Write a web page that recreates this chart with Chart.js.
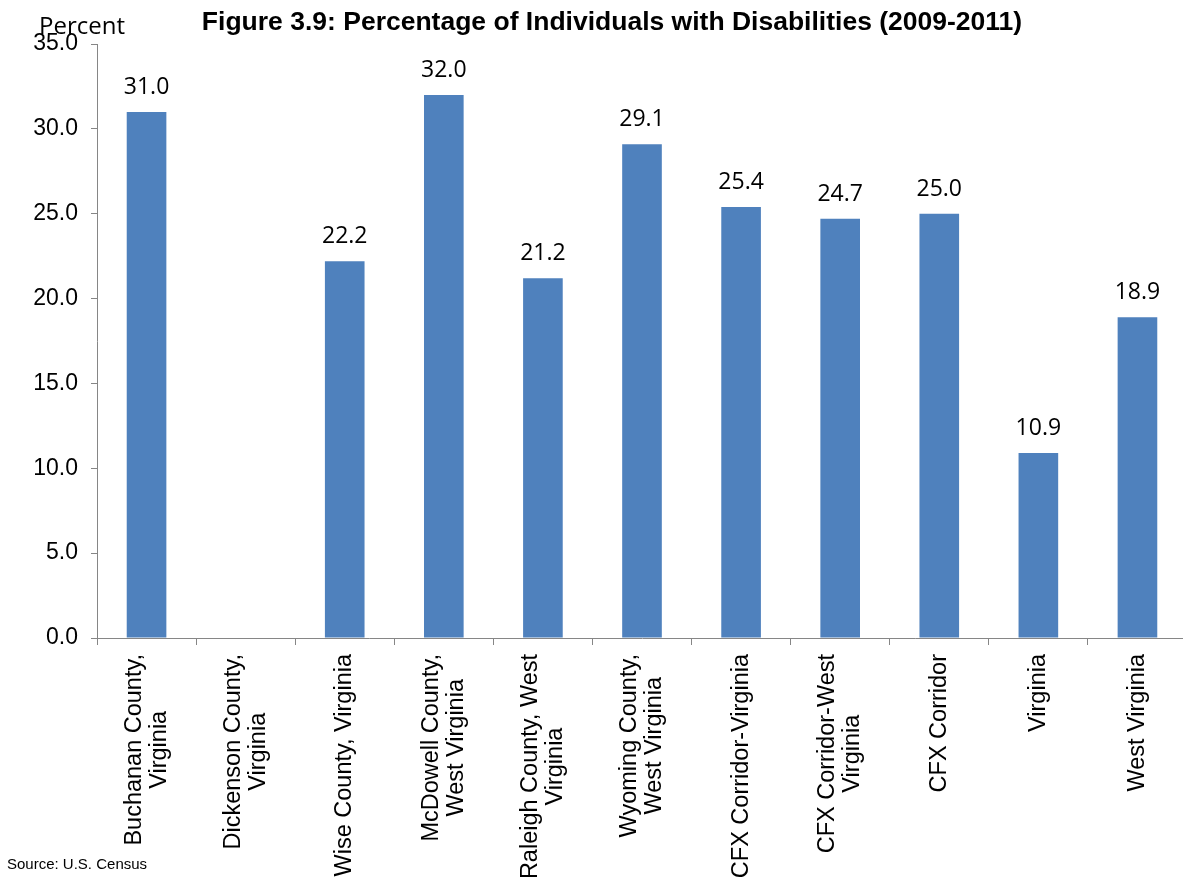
<!DOCTYPE html>
<html>
<head>
<meta charset="utf-8">
<script src="https://cdn.jsdelivr.net/npm/chart.js@4"></script>
<style>
    body { margin: 0; background: #fff; overflow: hidden; }
    #caja { position: relative; width: 1187px; height: 884px; }
</style>
</head>
<body>
<div id="caja"><canvas id="grafica"></canvas></div>
<script>
// DATOS
const categorias = [
    ["Buchanan County,", "Virginia"],
    ["Dickenson County,", "Virginia"],
    ["Wise County, Virginia"],
    ["McDowell County,", "West Virginia"],
    ["Raleigh County, West", "Virginia"],
    ["Wyoming County,", "West Virginia"],
    ["CFX Corridor-Virginia"],
    ["CFX Corridor-West", "Virginia"],
    ["CFX Corridor"],
    ["Virginia"],
    ["West Virginia"]
];
const porcentajes = [31.0, null, 22.2, 32.0, 21.2, 29.1, 25.4, 24.7, 25.0, 10.9, 18.9];
const yMin = 0;
const yMax = 35;
const yPaso = 5;

const titulo = "Figure 3.9: Percentage of Individuals with Disabilities (2009-2011)";
const tituloEje = "Percent";
const fuente = "Source: U.S. Census";

const ARIAL = "'Liberation Sans', Arial, sans-serif";
const CALIBRI = "'Open Sans', 'Noto Sans', sans-serif";

// =========================
// TEXTOS EXTRA
// =========================
const textosPlugin = {
    id: "textos",
    afterDatasetsDraw(chart) {
        const ctx = chart.ctx;
        const meta = chart.getDatasetMeta(0);
        ctx.save();

        // valores sobre las barras
        ctx.font = "23px " + CALIBRI;
        ctx.fillStyle = "#000";
        ctx.textAlign = "center";
        ctx.textBaseline = "alphabetic";
        meta.data.forEach((bar, i) => {
            const v = porcentajes[i];
            if (v === null) return;
            ctx.fillText(v.toFixed(1), bar.x, bar.y - 18);
        });

        // etiquetas del eje x (rotadas, centradas por bloque)
        const xs = chart.scales.x;
        ctx.font = "23.5px " + ARIAL;
        ctx.textBaseline = "middle";
        categorias.forEach((lineas, i) => {
            const cx = xs.getPixelForValue(i);
            const maxW = Math.max(...lineas.map(l => ctx.measureText(l).width));
            const cy = xs.top + 16 + maxW / 2;
            lineas.forEach((l, j) => {
                ctx.save();
                ctx.translate(cx + (j - (lineas.length - 1) / 2) * 25, cy);
                ctx.rotate(-Math.PI / 2);
                ctx.fillText(l, 0, 0);
                ctx.restore();
            });
        });

        // titulo
        ctx.textBaseline = "alphabetic";
        ctx.font = "bold 26.5px " + ARIAL;
        ctx.fillText(titulo, 612, 30);

        ctx.textAlign = "left";
        ctx.font = "24px " + CALIBRI;
        ctx.fillText(tituloEje, 39, 34);

        ctx.font = "15px " + ARIAL;
        ctx.fillText(fuente, 7, 869);

        ctx.restore();
    }
};

// =========================
// GRÁFICA
// =========================
const ctx = document.getElementById("grafica").getContext("2d");

new Chart(ctx, {
    type: "bar",
    data: {
        labels: categorias,
        datasets: [{
            data: porcentajes,
            backgroundColor: "#4F81BD",
            barPercentage: 0.4,
            categoryPercentage: 1.0
        }]
    },
    options: {
        responsive: true,
        maintainAspectRatio: false,
        animation: false,
        layout: { padding: { top: 44, left: 0, right: 0, bottom: 0 } },
        plugins: {
            legend: { display: false },
            tooltip: { enabled: false },
            title: { display: false }
        },
        scales: {
            x: {
                ticks: { display: false },
                grid: { drawOnChartArea: false, tickLength: 7, color: "#868686", offset: true },
                border: { color: "#868686" },
                afterFit(scale) { scale.height = 246; }
            },
            y: {
                min: yMin,
                max: yMax,
                ticks: {
                    stepSize: yPaso,
                    callback: v => v.toFixed(1),
                    font: { family: ARIAL, size: 23 },
                    color: "#000",
                    padding: 13
                },
                grid: { drawOnChartArea: false, tickLength: 6, color: "#868686" },
                border: { color: "#868686" },
                afterFit(scale) { scale.width = 97; }
            }
        }
    },
    plugins: [textosPlugin]
});
</script>
</body>
</html>
